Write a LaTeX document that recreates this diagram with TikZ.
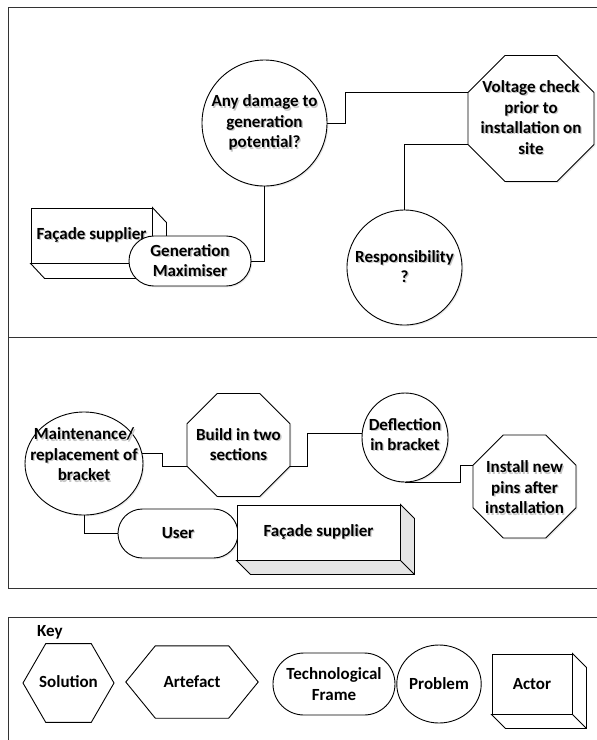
\documentclass[tikz,border=0pt]{standalone}
\usepackage{fontspec}
\setmainfont{Carlito}
\usetikzlibrary{shapes.geometric,calc,shadows}

% text with a soft grey offset copy behind it
\newcommand\shd[1]{\leavevmode\rlap{\kern1.3pt\raisebox{-1.3pt}{\color{black!22}#1}}#1}

\tikzset{
  every node/.style={font=\bfseries\fontsize{17}{20.5}\selectfont, align=center, inner sep=0pt},
  panel/.style={draw=black!80, line width=0.9pt},
  link/.style={draw, line width=0.9pt},
  soft/.style={drop shadow={shadow xshift=1.3pt, shadow yshift=-1.3pt, opacity=0.18}},
  problem/.style={ellipse, draw, fill=white, line width=0.9pt},
  solution/.style={regular polygon, regular polygon sides=8, draw, fill=white, line width=0.9pt},
  hexkey/.style={regular polygon, regular polygon sides=6, draw, fill=white, line width=0.9pt},
  frametech/.style={rectangle, rounded corners=#1, draw, fill=white, line width=0.9pt},
  actorfront/.style={rectangle, draw, fill=white, line width=0.9pt},
  actorside/.style={draw, fill=#1, line width=0.9pt, line join=miter},
}

\begin{document}
\begin{tikzpicture}[x=1pt, y=-1pt]
\useasboundingbox (0,0) rectangle (597,740);

% ---------- panels ----------
\draw[panel] (8,7) rectangle (602,337);
\draw[panel] (8,337) rectangle (602,588);
\draw[panel] (8,617) rectangle (602,746);

% ---------- upper panel ----------
\node[actorfront, minimum width=121pt, minimum height=55pt] (sup1) at (91.5,235.5) {\shd{Façade supplier}};
\filldraw[actorside=white] (sup1.north east) -- ++(14,15) -- ($(sup1.south east)+(14,15)$)
   -- ($(sup1.south west)+(14,15)$) -- (sup1.south west) -- (sup1.south east) -- cycle;
\draw[line width=0.9pt] (sup1.south east) -- ++(14,15);

\node[frametech=24.9pt, soft, minimum width=122pt, minimum height=50pt] (genmax) at (190,261)
   {\shd{Generation}\\\shd{Maximiser}};

\node[problem, soft, minimum width=125pt, minimum height=126pt] (dmg) at (264.5,123) {};
\node (dmgtxt) at (264.5,123.5) {\shd{Any damage to}\\\shd{generation}\\\shd{potential?}};

\node[solution, soft, minimum size=136.4pt] (volt) at (531,118.5) {};
\node (volttxt) at (531,118) {\shd{Voltage check}\\\shd{prior to}\\\shd{installation on}\\\shd{site}};

\node[problem, soft, minimum width=115pt, minimum height=115pt] (resp) at (404.5,267.5) {};
\node (resptxt) at (404.5,267) {\shd{Responsibility}\\\shd{?}};

\draw[link] (genmax.east) -| (dmg.south);
\draw[link] (dmg.east) -- ++(18,0) |- (volt.corner 3);
\draw[link] (volt.corner 4) -| (resp.north);

% ---------- middle panel ----------
\node[problem, soft, minimum width=118pt, minimum height=103pt] (maint) at (84,463.5) {};
\node (mainttxt) at (84,455) {\shd{Maintenance/}\\\shd{replacement of}\\\shd{bracket}};

\node[solution, soft, minimum size=111.5pt] (build) at (238.5,445) {};
\node (buildtxt) at (238.5,445) {\shd{Build in two}\\\shd{sections}};

\node[problem, soft, minimum width=86pt, minimum height=89pt] (defl) at (405,437.5) {};
\node (defltxt) at (405,435) {\shd{Deflection}\\\shd{in bracket}};

\node[solution, soft, minimum size=111.5pt] (inst) at (524.5,486.5) {};
\node (insttxt) at (524.5,488) {\shd{Install new}\\\shd{pins after}\\\shd{installation}};

\node[frametech=24.4pt, soft, minimum width=120pt, minimum height=49pt] (user) at (178,533.5) {\shd{User}};

\node[actorfront, minimum width=163pt, minimum height=55pt] (sup2) at (318.5,532.5) {\shd{Façade supplier}};
\filldraw[actorside=black!10] (sup2.north east) -- ++(14,14) -- ($(sup2.south east)+(14,14)$)
   -- ($(sup2.south west)+(14,14)$) -- (sup2.south west) -- (sup2.south east) -- cycle;
\draw[line width=0.9pt] (sup2.south east) -- ++(14,14);

\draw[link] (maint.10) -- ++(20,0) |- (build.corner 4);
\draw[link] (build.corner 7) -- ++(17,0) |- (defl.175);
\draw[link] (defl.south) -- ++(55,0) |- (inst.corner 3);
\draw[link] (maint.south) |- (user.west);

% ---------- key ----------
\node[anchor=west] (keyhead) at (37,632) {Key};

\node[hexkey, minimum size=91pt] (ksol) at (68.5,683) {};
\node (ksoltxt) at (68.5,682) {Solution};

\node[minimum width=132pt, minimum height=72pt] (kart) at (192,682) {Artefact};
\draw[line width=0.9pt] (kart.west) -- ($(kart.north west)+(29.5,0)$) -- ($(kart.north east)+(-29.5,0)$)
   -- (kart.east) -- ($(kart.south east)+(-29.5,0)$) -- ($(kart.south west)+(29.5,0)$) -- cycle;

\node[frametech=30.9pt, minimum width=122pt, minimum height=62pt] (ktech) at (334,684) {Technological\\Frame};

\node[problem, minimum width=80pt, minimum height=78pt] (kprob) at (439,684) {Problem};

\node[actorfront, minimum width=80pt, minimum height=60pt] (kact) at (532,684) {Actor};
\filldraw[actorside=white] (kact.north east) -- ++(14,14) -- ($(kact.south east)+(14,14)$)
   -- ($(kact.south west)+(14,14)$) -- (kact.south west) -- (kact.south east) -- cycle;
\draw[line width=0.9pt] (kact.south east) -- ++(14,14);
\end{tikzpicture}
\end{document}
